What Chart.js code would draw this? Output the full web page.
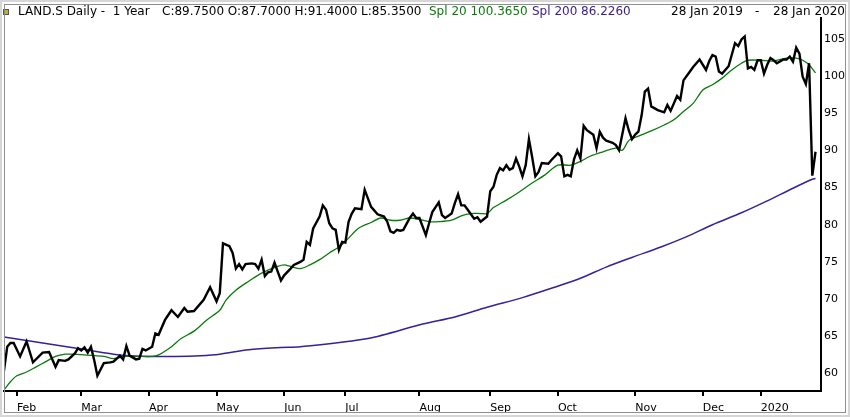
<!DOCTYPE html>
<html lang="en">

<head>
    <meta charset="UTF-8">
    <title>LAND.S Daily - 1 Year</title>
    <style>
        html, body { margin: 0; padding: 0; background: #fff; }
        #wrap { position: relative; width: 850px; height: 417px; overflow: hidden; font-family: 'DejaVu Sans', sans-serif; font-size: 12px; color: #000; }
        #frame { position: absolute; left: 0; top: 0; width: 850px; height: 417px; box-sizing: border-box; border: 2px solid #d6d6d6; pointer-events: none; }
        #frame2 { position: absolute; left: 2px; top: 2px; right: 2px; bottom: 2px; border: 1px solid #8e8e8e; }
        #myChart { position: absolute; left: 0; top: 0; }
        .hd { position: absolute; top: 4px; white-space: pre; line-height: 14px; }
        #icon { position: absolute; left: 3px; top: 9px; width: 4px; height: 4px; background: #b8b040; border: 1px solid #555; }
    </style>
</head>

<body>
    <div id="wrap">
        <canvas id="myChart" width="850" height="417"></canvas>
        <div id="icon"></div>
        <div class="hd" style="left:18px">LAND.S Daily -  1 Year</div>
        <div class="hd" style="left:162px">C:89.7500 O:87.7000 H:91.4000 L:85.3500</div>
        <div class="hd" style="left:429px;color:#0b7a0b">Spl 20 100.3650</div>
        <div class="hd" style="left:532px;color:#3a2090">Spl 200 86.2260</div>
        <div class="hd" style="left:671px">28 Jan 2019</div>
        <div class="hd" style="left:755px">-</div>
        <div class="hd" style="left:773px">28 Jan 2020</div>
        <div id="frame"><div id="frame2"></div></div>
    </div>

    <script src="https://cdn.jsdelivr.net/npm/chart.js"></script>
    <script>
        // trading day index (0 = 28 Jan 2019) and daily close
        const priceIdx = [0, 1, 2, 3, 5, 7, 9, 12, 14, 16, 17, 19, 20, 22, 23, 24, 25, 26, 27, 28, 29, 31, 33, 34, 36, 37, 38, 39, 41, 42,
            43, 44, 46, 47, 48, 50, 52, 54, 56, 57, 59, 62, 64, 66, 67, 68, 70, 71, 72, 73, 74, 75, 77, 78, 79, 80, 81, 82, 83, 84,
            85, 86, 87, 89, 90, 92, 93, 94, 95, 96, 98, 99, 100, 101, 102, 103, 104, 105, 106, 107, 108, 109, 111, 112, 114, 116, 118, 119, 120, 121,
            122, 123, 124, 126, 127, 128, 129, 131, 132, 133, 135, 136, 137, 139, 140, 141, 142, 143, 144, 146, 147, 148, 150, 151, 152, 153, 154, 155, 156, 157,
            158, 159, 160, 161, 162, 163, 164, 165, 166, 167, 169, 170, 172, 173, 174, 175, 176, 177, 178, 179, 180, 181, 183, 184, 185, 186, 187, 189, 190, 191,
            193, 194, 195, 196, 197, 198, 199, 200, 201, 203, 205, 206, 207, 209, 210, 211, 213, 214, 216, 218, 219, 220, 221, 222, 223, 225, 227, 228, 229, 230,
            231, 232, 233, 234, 235, 236, 237, 238, 239, 240, 242, 243, 244, 245, 246, 247, 248, 249, 250, 251, 252];
        const priceClose = [60.4, 63.6, 64.1, 64.1, 62.3, 64.3, 61.5, 62.8, 62.9, 60.9, 61.8, 61.7, 61.9, 62.7, 63.4, 63.1, 63.5, 62.8, 63.6, 61.8, 59.7, 61.4, 61.5, 61.6, 62.4, 61.9, 63.7, 62.4, 61.9, 62.0,
            63.3, 63.1, 63.6, 65.4, 65.2, 67.2, 68.5, 67.6, 68.8, 68.3, 68.4, 69.9, 71.6, 69.7, 70.8, 77.5, 77.1, 76.2, 74.1, 74.7, 74.0, 74.7, 74.8, 74.7, 74.1, 75.3, 73.1, 73.6, 73.7, 74.9,
            73.7, 72.5, 73.2, 74.1, 74.6, 75.0, 75.3, 77.7, 77.3, 79.5, 81.1, 82.6, 82.0, 80.2, 79.5, 79.3, 76.6, 77.7, 77.6, 80.4, 81.5, 82.2, 82.1, 84.7, 82.4, 81.4, 81.1, 80.4, 79.1, 78.9,
            79.3, 79.2, 79.3, 80.9, 81.5, 80.9, 80.9, 78.6, 80.2, 81.7, 83.0, 81.3, 80.9, 81.5, 82.9, 84.1, 82.6, 82.6, 82.0, 80.8, 81.0, 80.4, 81.1, 84.5, 85.1, 86.7, 87.6, 87.3, 88.0, 87.4,
            87.6, 88.9, 87.8, 86.5, 88.0, 91.5, 89.1, 86.5, 87.1, 88.3, 88.2, 88.7, 89.6, 89.2, 86.5, 86.7, 86.5, 88.8, 90.0, 88.9, 93.3, 92.7, 92.1, 90.3, 92.5, 91.7, 91.3, 91.0, 90.7, 90.0,
            94.3, 92.7, 91.5, 92.1, 92.5, 94.7, 97.9, 98.3, 95.9, 95.4, 95.1, 96.1, 95.3, 97.3, 96.8, 99.4, 100.6, 101.2, 102.2, 100.8, 102.0, 102.8, 102.6, 100.6, 100.3, 101.3, 104.4, 104.0, 104.9, 105.3,
            101.0, 101.2, 100.8, 102.1, 102.1, 100.3, 101.5, 102.4, 102.1, 101.7, 102.2, 102.2, 102.6, 101.9, 103.8, 103.0, 99.9, 98.9, 101.7, 86.6, 89.8];

        // Spl 20 (green)
        const spl20Idx = [0, 2, 4, 7, 10, 13, 16, 19, 21, 25, 28, 31, 34, 38, 42, 46, 48, 52, 55, 59, 63, 67, 69, 72, 76, 80, 85, 87, 89, 92,
            95, 98, 101, 104, 107, 110, 114, 117, 120, 123, 126, 129, 132, 135, 139, 142, 145, 148, 150, 152, 156, 160, 164, 168, 172, 176, 179, 182, 186, 190,
            192, 194, 197, 201, 205, 208, 211, 214, 217, 220, 223, 226, 229, 231, 235, 239, 243, 246, 248, 250, 252];
        const spl20 = [57.8, 58.9, 59.7, 60.2, 60.9, 61.6, 62.3, 62.6, 62.6, 62.5, 62.4, 62.3, 62.0, 62.3, 62.3, 62.3, 62.5, 63.6, 64.7, 65.7, 67.2, 68.5, 69.9, 71.2, 72.4, 73.5, 74.4, 74.6, 74.4, 74.1,
            74.6, 75.3, 76.2, 77.0, 78.2, 79.5, 80.3, 80.9, 80.6, 80.6, 80.9, 80.7, 80.4, 80.4, 80.6, 81.2, 81.5, 81.5, 81.5, 82.3, 83.3, 84.4, 85.6, 86.7, 88.0, 88.0, 88.5, 89.2, 89.8, 90.3,
            90.0, 91.3, 91.9, 92.6, 93.4, 94.1, 95.2, 96.3, 98.1, 98.8, 99.7, 100.8, 101.7, 102.1, 102.1, 102.0, 102.4, 102.4, 102.1, 101.5, 100.4];

        // Spl 200 (purple)
        const spl200Idx = [0, 24, 36, 45, 53, 61, 67, 76, 86, 92, 113, 130, 140, 150, 161, 171, 179, 187, 195, 204, 212, 220, 229, 237, 245, 251, 252];
        const spl200 = [64.9, 63.3, 62.5, 62.3, 62.3, 62.4, 62.6, 63.2, 63.5, 63.6, 64.7, 66.65, 67.6, 68.9, 70.2, 71.6, 72.8, 74.3, 75.6, 77.0, 78.4, 80.0, 81.6, 83.2, 84.9, 86.1, 86.2];

        // month ticks (first trading day of each month)
        const monthTickIdx = [4, 24, 45, 66, 87, 106, 129, 151, 172, 196, 217, 235];
        const monthLabels = ['Feb', 'Mar', 'Apr', 'May', 'Jun', 'Jul', 'Aug', 'Sep', 'Oct', 'Nov', 'Dec', '2020'];
        const yTicks = [60, 65, 70, 75, 80, 85, 90, 95, 100, 105];

        function toPoints(xs, ys) {
            return xs.map((x, i) => ({ x: x, y: ys[i] }));
        }

        const axisFont = { family: 'DejaVu Sans', size: 11 };
        const ctx = document.getElementById('myChart');

        new Chart(ctx, {
            type: 'line',
            data: {
                datasets: [{
                    label: 'LAND.S',
                    data: toPoints(priceIdx, priceClose),
                    borderColor: '#000',
                    borderWidth: 2.4,
                    pointRadius: 0,
                    tension: 0
                }, {
                    label: 'Spl 20',
                    data: toPoints(spl20Idx, spl20),
                    borderColor: '#0a7a0a',
                    borderWidth: 1.3,
                    pointRadius: 0,
                    tension: 0.3
                }, {
                    label: 'Spl 200',
                    data: toPoints(spl200Idx, spl200),
                    borderColor: '#3a1f9c',
                    borderWidth: 1.5,
                    pointRadius: 0,
                    tension: 0.3
                }]
            },
            options: {
                responsive: false,
                animation: false,
                devicePixelRatio: 1,
                layout: { padding: { top: 18, left: 4, right: 0, bottom: 0 } },
                plugins: { legend: { display: false }, tooltip: { enabled: false } },
                scales: {
                    x: {
                        type: 'linear',
                        min: 0,
                        max: 253.7,
                        afterFit: (s) => { s.height = 26; },
                        afterBuildTicks: (s) => { s.ticks = monthTickIdx.map(v => ({ value: v })); },
                        grid: { display: true, drawOnChartArea: false, drawTicks: true, tickLength: 5, color: '#000', lineWidth: 2 },
                        border: { display: true, color: '#000', width: 2 },
                        ticks: {
                            autoSkip: false,
                            maxRotation: 0,
                            align: 'start',
                            padding: 6,
                            color: '#000',
                            font: axisFont,
                            callback: (v, i) => monthLabels[i]
                        }
                    },
                    y: {
                        position: 'right',
                        min: 57.65,
                        max: 107.78,
                        afterFit: (s) => { s.width = 29; },
                        afterBuildTicks: (s) => { s.ticks = yTicks.map(v => ({ value: v })); },
                        grid: { display: false, drawTicks: false },
                        border: { display: true, color: '#000', width: 2 },
                        ticks: { padding: 3, color: '#000', font: axisFont }
                    }
                }
            }
        });
    </script>
</body>

</html>
